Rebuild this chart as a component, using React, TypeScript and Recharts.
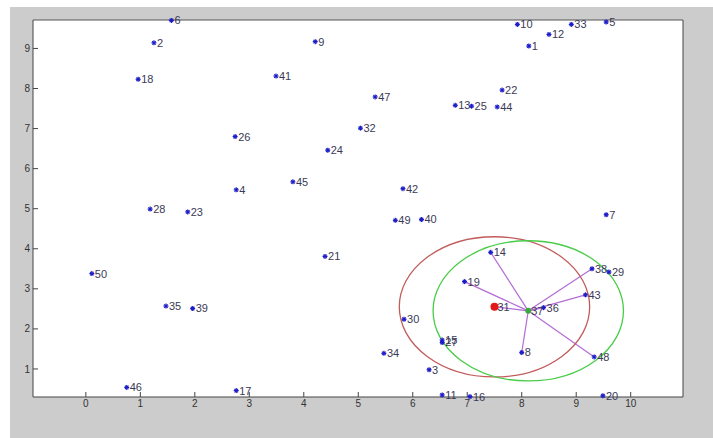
import {
  CartesianGrid,
  ReferenceDot,
  ReferenceLine,
  Scatter,
  ScatterChart,
  XAxis,
  YAxis,
} from "recharts";

// point coordinates, point n sits at index n - 1
const xs = [
  8.13, 1.25, 6.3, 2.76, 9.55, 1.57, 9.55, 8.0, 4.21, 7.92,
  6.54, 8.5, 6.78, 7.43, 6.54, 7.05, 2.76, 0.96, 6.95, 9.49,
  4.39, 7.64, 1.87, 4.44, 7.08, 2.74, 6.54, 1.18, 9.6, 5.84,
  7.5, 5.04, 8.91, 5.47, 1.47, 8.4, 8.12, 9.29, 1.96, 6.16,
  3.49, 5.82, 9.17, 7.55, 3.8, 0.75, 5.31, 9.33, 5.68, 0.11,
];
const ys = [
  9.06, 9.14, 0.98, 5.47, 9.66, 9.7, 4.85, 1.41, 9.17, 9.6,
  0.35, 9.35, 7.58, 3.91, 1.72, 0.31, 0.46, 8.23, 3.18, 0.33,
  3.81, 7.96, 4.92, 6.46, 7.56, 6.8, 1.66, 4.99, 3.42, 2.24,
  2.55, 7.01, 9.6, 1.39, 2.57, 2.53, 2.45, 3.5, 2.51, 4.73,
  8.31, 5.5, 2.85, 7.54, 5.67, 0.54, 7.79, 1.3, 4.71, 3.38,
];

const xTicks = [0, 1, 2, 3, 4, 5, 6, 7, 8, 9, 10];
const yTicks = [1, 2, 3, 4, 5, 6, 7, 8, 9];
const xDomain = [-0.97, 10.96];
const yDomain = [0.3, 9.71];

const seedId = 31;
const centerId = 37;
const neighbourIds = [14, 19, 31, 36, 38, 43, 8, 48];
const radius = 1.75;

// plot box in px, used to turn the radius into ellipse axes
const plotW = 649;
const plotH = 377;

const points = xs.map((x, i) => ({ id: i + 1, x, y: ys[i] }));
const pt = (id: number) => points[id - 1];

const FONT = "'Liberation Sans', Arial, Helvetica, sans-serif";

function PointMark(props: any) {
  const { cx, cy, payload } = props;
  let mark;
  if (payload.id === seedId) {
    mark = <circle cx={cx} cy={cy} r={4} fill="#e01818" />;
  } else if (payload.id === centerId) {
    mark = <circle cx={cx} cy={cy} r={3} fill="#3aaa3a" />;
  } else {
    const r = 2.5;
    const d = r * 0.7;
    mark = (
      <g stroke="#1c1cc8" strokeWidth={1.2}>
        <line x1={cx - r} y1={cy} x2={cx + r} y2={cy} />
        <line x1={cx} y1={cy - r} x2={cx} y2={cy + r} />
        <line x1={cx - d} y1={cy - d} x2={cx + d} y2={cy + d} />
        <line x1={cx - d} y1={cy + d} x2={cx + d} y2={cy - d} />
      </g>
    );
  }
  return (
    <g>
      {mark}
      <text
        x={cx + 3}
        y={cy}
        dy="0.36em"
        fontSize={11}
        fontFamily={FONT}
        fill="#3a3a55"
      >
        {payload.id}
      </text>
    </g>
  );
}

// invisible copy of the points so the top/right box axes get a domain
const NoMark = () => <g />;

const ring = (color: string) => (p: any) => (
  <ellipse
    cx={p.cx}
    cy={p.cy}
    rx={(radius * plotW) / (xDomain[1] - xDomain[0])}
    ry={(radius * plotH) / (yDomain[1] - yDomain[0])}
    fill="none"
    stroke={color}
    strokeWidth={1.3}
  />
);

const tickStyle = { fontSize: 10, fill: "#333", fontFamily: FONT };

export default function App() {
  const c = pt(centerId);
  const s = pt(seedId);
  return (
    <div
      style={{
        position: "absolute",
        left: 0,
        top: 0,
        width: 713,
        height: 438,
        background: "#fff",
      }}
    >
      <div
        style={{
          position: "absolute",
          left: 10,
          top: 7,
          width: 703,
          height: 431,
          background: "#cccccc",
        }}
      >
        <ScatterChart
          width={703}
          height={431}
          margin={{ top: 12, right: 29, bottom: 21, left: 0 }}
        >
          <CartesianGrid
            horizontal={false}
            vertical={false}
            fill="#ffffff"
            stroke="none"
          />
          <XAxis
            type="number"
            dataKey="x"
            domain={xDomain}
            ticks={xTicks}
            height={20}
            tickSize={-5}
            tickMargin={8}
            tick={tickStyle}
            stroke="#444"
            interval={0}
          />
          <XAxis
            xAxisId="top"
            orientation="top"
            type="number"
            dataKey="x"
            domain={xDomain}
            ticks={xTicks}
            height={1}
            tickSize={-5}
            tick={false}
            stroke="#555"
            interval={0}
          />
          <YAxis
            type="number"
            dataKey="y"
            domain={yDomain}
            ticks={yTicks}
            width={23}
            tickSize={-5}
            tickMargin={8}
            tick={tickStyle}
            stroke="#444"
            interval={0}
          />
          <YAxis
            yAxisId="right"
            orientation="right"
            type="number"
            dataKey="y"
            domain={yDomain}
            ticks={yTicks}
            width={1}
            tickSize={-5}
            tick={false}
            stroke="#444"
            interval={0}
          />
          <Scatter
            data={points}
            xAxisId="top"
            yAxisId="right"
            shape={NoMark}
            isAnimationActive={false}
          />
          <ReferenceDot
            x={s.x}
            y={s.y}
            r={1}
            ifOverflow="visible"
            shape={ring("#c25c5c")}
          />
          <ReferenceDot
            x={c.x}
            y={c.y}
            r={1}
            ifOverflow="visible"
            shape={ring("#48cc48")}
          />
          {neighbourIds.map((id) => (
            <ReferenceLine
              key={id}
              segment={[
                { x: c.x, y: c.y },
                { x: pt(id).x, y: pt(id).y },
              ]}
              stroke="#b46cd6"
              strokeWidth={1.2}
              ifOverflow="visible"
            />
          ))}
          <Scatter
            data={points}
            shape={PointMark}
            isAnimationActive={false}
          />
        </ScatterChart>
      </div>
    </div>
  );
}
